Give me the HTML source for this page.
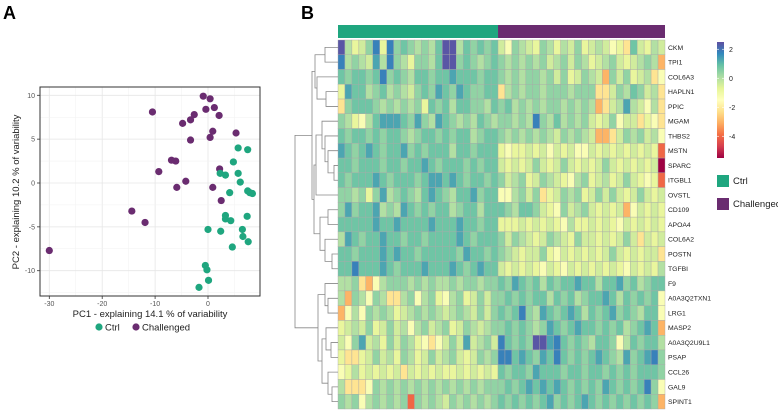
<!DOCTYPE html>
<html><head><meta charset="utf-8"><style>
body{margin:0;background:#fff;}
svg{display:block;font-family:"Liberation Sans",sans-serif;}
</style></head><body>
<svg id="fig" width="778" height="412" viewBox="0 0 778 412">
<text x="3" y="19" font-size="18" font-weight="bold">A</text>
<text x="301" y="19" font-size="18" font-weight="bold">B</text>
<g id="pca"></g>
<g id="heat"></g>
</svg>
<script>
// ---------- PCA data ----------
const ctrlPC1=[5.7,7.5,4.8,2.3,3.3,5.7,6.1,4.1,7.5,7.9,8.4,3.3,3.3,4.3,7.4,0,2.4,6.5,6.6,7.6,4.6,-0.5,-0.2,0.1,-1.7];
const ctrlPC2=[4.0,3.8,2.4,1.1,0.9,1.1,0.1,-1.1,-0.9,-1.1,-1.2,-3.7,-4.1,-4.3,-3.8,-5.3,-5.5,-5.3,-6.1,-6.7,-7.3,-9.4,-9.9,-11.1,-11.9];
const chalPC1=[-30,-14.4,-11.9,-10.5,-9.3,-6.9,-6.1,-5.9,-4.8,-4.2,-3.3,-3.3,-2.6,-0.9,-0.4,0.4,0.4,0.9,1.2,2.1,0.9,2.2,2.5,5.3];
const chalPC2=[-7.7,-3.2,-4.5,8.1,1.3,2.6,2.5,-0.5,6.8,0.2,7.2,4.9,7.8,9.9,8.4,9.6,5.2,5.9,8.6,7.7,-0.5,1.6,-2.0,5.7];
const xTicks=[-30,-20,-10,0];
const yTicks=[10,5,-5,-10,0];

// ---------- Heatmap data ----------
const genes=["CKM","TPI1","COL6A3","HAPLN1","PPIC","MGAM","THBS2","MSTN","SPARC","ITGBL1","OVSTL","CD109","APOA4","COL6A2","POSTN","TGFBI","F9","A0A3Q2TXN1","LRG1","MASP2","A0A3Q2U9L1","PSAP","CCL26","GAL9","SPINT1"];
const groups=["Ctrl","Challenged"];
const groupSizes=[23,24];
const levelCodes="PBbTtgGyYoORM";
const levelValues=[2.4,1.8,1.3,0.8,0.4,0.0,-0.4,-0.8,-1.3,-2.2,-3.0,-4.0,-5.5];
const rowCodes=[
"PgyGtByBtTtgtgTPPgTtTtT"+"GYtgGytgygGtyGgGYyoTGygG",
"BgtgGbgBtgyttgTPPtTtgtT"+"tgtgtgtGgtGtgyGgtGyGgtgO",
"TtTTtTBtTtgTTtTTbTTTtTT"+"tgtgttgtGtyGtgGOtGtyGgoY",
"ybTTgtTgtgGtTtbTtbTttTT"+"ogtgttgtttgtttooGtgTtGgo",
"otTTTtgtgtgtyTtTgTTttgT"+"tTgtgtgttgtgtgOoGgbgGYgo",
"tgyYgTbbbTtbtgbTtgtgTtg"+"ttgtgBtgTgtgtGyGtYGGoyYo",
"TtTTtTtTTtgtTTtTtTTgtTT"+"tgtgtgtgGtgtgGOOoGtgtGgY",
"bTtTbTtTTbtTtTTTgTTtTTT"+"yYyyGyGYGyGYYGyGyGyGyGyR",
"TTtTTTtTTtTTbTtTTTtTtTT"+"GyGyGtGyGtGyGyGtGyGyGyGM",
"TtTTTbTtTTTtTbbTbTtTTtT"+"tGgtyGtgGyYgtyGgyGtGyYyR",
"ttgtytbgtTtgTbTtgTTbtTT"+"YYgtGtoyGtgtyGtGtGyGtGyG",
"tbtTTbgtgbTtTtTTgtTTgTT"+"TtgTTtGyYtGgtGyGyGOYGyGy",
"TTTTTbTTbTTTTbTTTbTTtTT"+"yyyGyGyGyYgyyGyGyYGyGyGy",
"gbTtTTbTTtTTtTTTTbTtTTT"+"tGtgGyGtgGytGGyGyGtGoGyG",
"TTtTTTbTbTTtTTTTTtbTTtT"+"tgGyGGtyYGyGyGyGtGyGyGGo",
"TTBTTTbTtTTTbTTTbTtTbTT"+"GyGyGyYGyYGyGyGyGyYGyGyg",
"ggtoOYgtttgtgtggtgttgtt"+"TtbTtTgTtTTbTTgTTbtTgtTT",
"gOtgYtgoogtYgtyYgtyGtGt"+"tTtTtTTgTtTgtTTbTgTtTtTY",
"OYgYtgtgyGgtgtgGgtgGtGt"+"TtTBtgbTtTbTgTtTbtTtgTTY",
"yGgGtyGtGgYgtGgtyGtgGgt"+"tTtTtgtbTtTbTTtTtTgtTbTO",
"GYtbGgytGtgyYoYGtGbGgtG"+"BTtTtPPbBTtTtgTTtYgTtTTg",
"yooyGtGgytgyGtGgtGyGtgt"+"BBTbTtbTBTtTtTbTtgbtTbBt",
"YygyGyGyGoGyGyGyyGyGyGy"+"TtTTtbTTTtTTtTTtTtTtTTTt",
"goooYtgtgtgtgtgtgtgtgtt"+"tTtTbTbTbTtTtTtbTtTtTBtY",
"tgtYgtgtgtRtgtgGtgtgtgt"+"TtTtTtTbtTtTbTtTtTtTtTtO"
];
const legendTicks=[2,0,-2,-4];

const NS="http://www.w3.org/2000/svg";
function mk(tag,attrs,parent){const e=document.createElementNS(NS,tag);for(const k in attrs)e.setAttribute(k,attrs[k]);parent.appendChild(e);return e;}

// ----- PCA -----
const pca=document.getElementById('pca');
const px0=40,px1=260,py0=87,py1=296;
const xs=v=>208+(v)*5.29;
const ys=v=>183-(v)*8.77;
const bg=mk('rect',{x:px0,y:py0,width:px1-px0,height:py1-py0,fill:'#fff'},pca);


for(let v=-35;v<=10;v+=5){const x=xs(v);if(x<px0||x>px1)continue;const l=mk('line',{x1:x,x2:x,y1:py0,y2:py1,stroke:v%10===0?'#e6e6e6':'#f2f2f2','stroke-width':v%10===0?0.8:0.5},pca);}
for(let v=-12.5;v<=12.5;v+=2.5){const y=ys(v);if(y<py0||y>py1)continue;const l=mk('line',{x1:px0,x2:px1,y1:y,y2:y,stroke:(v%5===0)?'#e6e6e6':'#f2f2f2','stroke-width':(v%5===0)?0.8:0.5},pca);}
xTicks.forEach(v=>{const x=xs(v);mk('line',{x1:x,x2:x,y1:py1,y2:py1+3,stroke:'#333','stroke-width':0.8},pca);const t=mk('text',{x:x,y:py1+10,'font-size':7,fill:'#555','text-anchor':'middle'},pca);t.textContent=v;});
yTicks.forEach(v=>{const y=ys(v);mk('line',{x1:px0-3,x2:px0,y1:y,y2:y,stroke:'#333','stroke-width':0.8},pca);const t=mk('text',{x:px0-5,y:y+2.5,'font-size':7,fill:'#555','text-anchor':'end'},pca);t.textContent=v;});
const border=mk('rect',{x:px0,y:py0,width:px1-px0,height:py1-py0,fill:'none',stroke:'#333','stroke-width':1},pca);

chalPC1.forEach((v,i)=>{const c=mk('circle',{cx:xs(v),cy:ys(chalPC2[i]),r:3.6,fill:'#6a2c70'},pca);});
ctrlPC1.forEach((v,i)=>{const c=mk('circle',{cx:xs(v),cy:ys(ctrlPC2[i]),r:3.6,fill:'#1fa67f'},pca);});
let t=mk('text',{x:150,y:317,'font-size':9.5,fill:'#222','text-anchor':'middle'},pca);t.textContent='PC1 - explaining 14.1 % of variability';
t=mk('text',{x:0,y:0,'font-size':9.5,fill:'#222','text-anchor':'middle',transform:'translate(19,192) rotate(-90)'},pca);t.textContent='PC2 - explaining 10.2 % of variability';
let c=mk('circle',{cx:99,cy:327,r:3.6,fill:'#1fa67f'},pca);
t=mk('text',{x:105,y:330.5,'font-size':9.5,fill:'#222'},pca);t.textContent='Ctrl';
c=mk('circle',{cx:136,cy:327,r:3.6,fill:'#6a2c70'},pca);
t=mk('text',{x:142,y:330.5,'font-size':9.5,fill:'#222'},pca);t.textContent='Challenged';

// ----- Heatmap -----
const heat=document.getElementById('heat');
const hx0=338,hx1=665,hy0=40,hy1=409;
const nCols=groupSizes[0]+groupSizes[1];
const cw=(hx1-hx0)/nCols, rh=(hy1-hy0)/genes.length;
const vmin=-5.5,vmax=2.5;
const stops=["#9e0142","#d53e4f","#f46d43","#fdae61","#fee08b","#ffffbf","#e6f598","#abdda4","#66c2a5","#3288bd","#5e4fa2"];
function hex(h){return [1,3,5].map(i=>parseInt(h.substr(i,2),16));}
function colorOf(v){let f=(v-vmin)/(vmax-vmin)*(stops.length-1);f=Math.max(0,Math.min(stops.length-1,f));const i=Math.min(stops.length-2,Math.floor(f)),r=f-i;const a=hex(stops[i]),b=hex(stops[i+1]);return 'rgb('+a.map((x,k)=>Math.round(x+(b[k]-x)*r)).join(',')+')';}
const matrix=rowCodes.map(s=>s.split('').map(ch=>levelValues[levelCodes.indexOf(ch)]));
matrix.forEach((row,r)=>{row.forEach((v,cI)=>{const e=mk('rect',{x:hx0+cI*cw,y:hy0+r*rh,width:cw,height:rh,fill:colorOf(v),stroke:'#a8a8a8','stroke-width':0.4},heat);});
 const l=mk('text',{x:hx1+3,y:hy0+r*rh+rh/2+2.4,'font-size':6.8,fill:'#222'},heat);l.textContent=genes[r];});
const gcol=['#1fa67f','#6a2c70'];
let off=0;groupSizes.forEach((n,g)=>{const e=mk('rect',{x:hx0+off*cw,y:25,width:n*cw,height:13,fill:gcol[g]},heat);off+=n;});
// dendrogram
const tree=[43,[26,[23,[13,0,1],[21,2,[12,3,4]]],[24,[22,[16,5,[13,6,[10,7,[4,8,9]]]],10],[18,[10,11,12],[13,13,[6,14,15]]]]],[20,[13,16,[10,17,18]],[16,[12,19,[7,20,21]],[10,22,[6,23,24]]]]];
function draw(n){if(typeof n==='number')return {y:hy0+(n+0.5)*rh,x:hx0};const a=draw(n[1]),b=draw(n[2]);const x=hx0-n[0];
 mk('path',{d:`M${a.x},${a.y}H${x}V${b.y}H${b.x}`,fill:'none',stroke:'#888','stroke-width':0.8},heat);
 return {x:x,y:(a.y+b.y)/2};}
draw(tree);
// color legend
const defs=mk('defs',{},heat);const gr=mk('linearGradient',{id:'cg',x1:0,y1:1,x2:0,y2:0},defs);
stops.forEach((s,i)=>mk('stop',{offset:i/(stops.length-1),'stop-color':s},gr));
const cbY0=42,cbY1=158;const cy=v=>cbY0+(vmax-v)/(vmax-vmin)*(cbY1-cbY0);
let cb=mk('rect',{x:717,y:cbY0,width:7,height:cbY1-cbY0,fill:'url(#cg)'},heat);
legendTicks.forEach(v=>{mk('line',{x1:717,x2:719,y1:cy(v),y2:cy(v),stroke:'#fff','stroke-width':0.6},heat);mk('line',{x1:722,x2:724,y1:cy(v),y2:cy(v),stroke:'#fff','stroke-width':0.6},heat);const l=mk('text',{x:729,y:cy(v)+2.5,'font-size':7,fill:'#222'},heat);l.textContent=v;});
groups.forEach((g,i)=>{const y=175+i*23;const e=mk('rect',{x:717,y:y,width:12,height:12,fill:gcol[i]},heat);const l=mk('text',{x:733,y:y+9,'font-size':9.5,fill:'#222'},heat);l.textContent=g;});
</script>
</body></html>
